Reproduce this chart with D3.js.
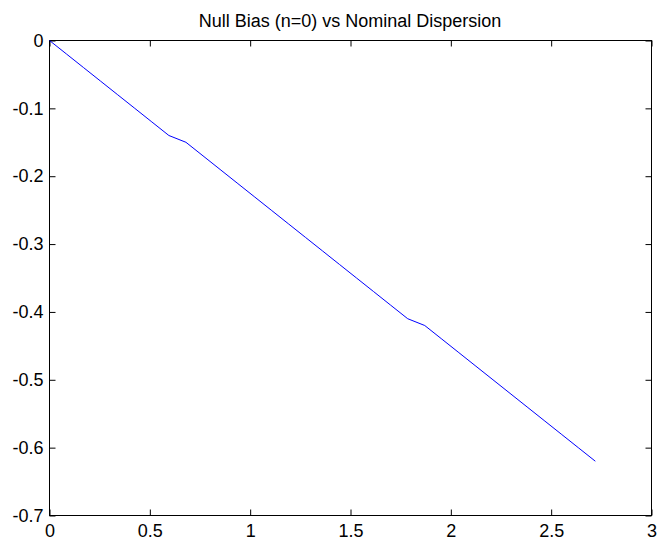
<!DOCTYPE html>
<html>
<head>
<meta charset="utf-8">
<script src="https://cdn.jsdelivr.net/npm/d3@7"></script>
<style>
  body { margin: 0; background: #fff; }
  text { font-family: "Liberation Sans", Arial, sans-serif; }
</style>
</head>
<body>
<div id="chart"></div>
<script>
// data
var dispersion = [0, 0.085, 0.17, 0.255, 0.34, 0.425, 0.51, 0.595, 0.68, 0.765, 0.85,
  0.935, 1.02, 1.105, 1.19, 1.275, 1.36, 1.445, 1.53, 1.615, 1.70, 1.785, 1.87,
  1.955, 2.04, 2.125, 2.21, 2.295, 2.38, 2.465, 2.55, 2.635, 2.72];
var bias = [0, -0.02, -0.04, -0.06, -0.08, -0.10, -0.12, -0.14, -0.15, -0.17, -0.19,
  -0.21, -0.23, -0.25, -0.27, -0.29, -0.31, -0.33, -0.35, -0.37, -0.39, -0.41, -0.42,
  -0.44, -0.46, -0.48, -0.50, -0.52, -0.54, -0.56, -0.58, -0.60, -0.62];
var xTicks = [0, 0.5, 1, 1.5, 2, 2.5, 3];
var yTicks = [0, -0.1, -0.2, -0.3, -0.4, -0.5, -0.6, -0.7];
var title = 'Null Bias (n=0) vs Nominal Dispersion';

var width = 658;
var height = 540;
var margin = { top: 40, right: 7, bottom: 25, left: 49 };
var w = width - margin.left - margin.right;
var h = height - margin.top - margin.bottom;
var fontSize = '18px';

var svg = d3.select('#chart').append('svg')
  .attr('width', width)
  .attr('height', height);

svg.append('text')
  .attr('x', margin.left + w / 2)
  .attr('y', 26.5)
  .attr('text-anchor', 'middle')
  .style('font-size', fontSize)
  .text(title);

var g = svg.append('g')
  .attr('transform', 'translate(' + (margin.left + 0.5) + ',' + (margin.top + 0.5) + ')');

var x = d3.scaleLinear().domain([0, 3]).range([0, w]);
var y = d3.scaleLinear().domain([-0.7, 0]).range([h, 0]);

// ハイフンのマイナス記号にする
function fmt(d) { return String(+d.toFixed(1)); }

// 下の軸
g.append('g')
  .attr('transform', 'translate(0,' + h + ')')
  .call(d3.axisBottom(x).tickValues(xTicks).tickFormat(fmt).tickSizeInner(-6).tickSizeOuter(0).tickPadding(9));
// 上の軸
g.append('g')
  .call(d3.axisTop(x).tickValues(xTicks).tickFormat('').tickSizeInner(-6).tickSizeOuter(0));
// 左の軸
g.append('g')
  .call(d3.axisLeft(y).tickValues(yTicks).tickFormat(fmt).tickSizeInner(-6).tickSizeOuter(0).tickPadding(6));
// 右の軸
g.append('g')
  .attr('transform', 'translate(' + w + ',0)')
  .call(d3.axisRight(y).tickValues(yTicks).tickFormat('').tickSizeInner(-6).tickSizeOuter(0));

g.selectAll('.domain').remove();
g.selectAll('.tick line').attr('stroke', '#000');
g.selectAll('.tick text')
  .attr('fill', '#000')
  .style('font-size', fontSize)
  .style('font-family', '"Liberation Sans", Arial, sans-serif');

g.append('rect')
  .attr('width', w)
  .attr('height', h)
  .attr('fill', 'none')
  .attr('stroke', '#000');

var line = d3.line()
  .x(function(d, i) { return x(dispersion[i]); })
  .y(function(d) { return y(d); });

g.append('path')
  .datum(bias)
  .attr('fill', 'none')
  .attr('stroke', '#0000ff')
  .attr('stroke-width', 1)
  .attr('d', line);
</script>
</body>
</html>
